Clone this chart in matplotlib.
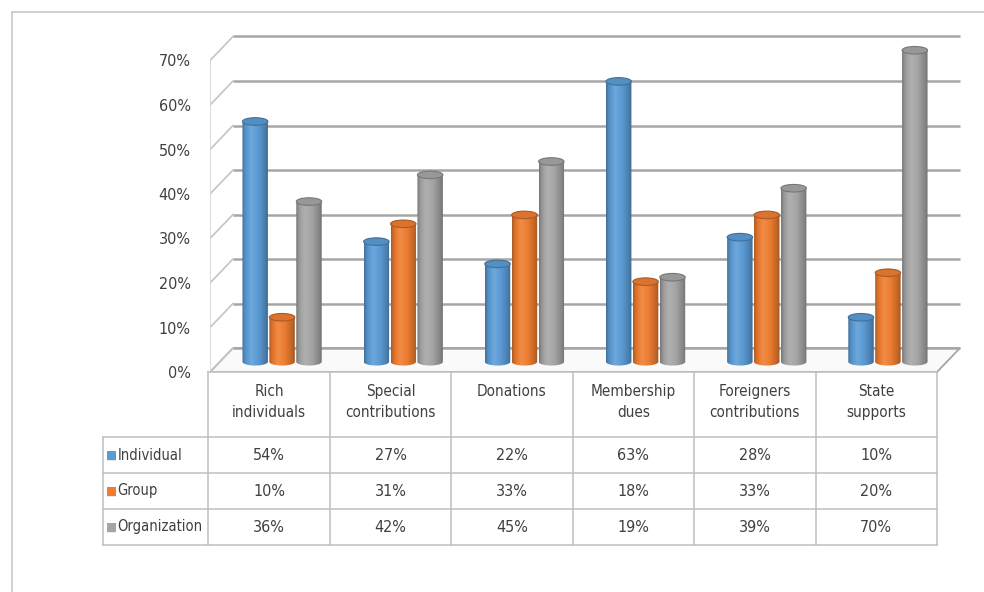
import matplotlib
matplotlib.use("Agg")
import matplotlib.pyplot as plt
import numpy as np
from matplotlib.patches import Ellipse, Polygon
from matplotlib.lines import Line2D
from matplotlib.colors import to_rgb
from matplotlib import font_manager

# ---------------- data ----------------
categories = ["Rich\nindividuals", "Special\ncontributions", "Donations",
              "Membership\ndues", "Foreigners\ncontributions", "State\nsupports"]
series_names = ["Individual", "Group", "Organization"]
individual = [54, 27, 22, 63, 28, 10]
group = [10, 31, 33, 18, 33, 20]
organization = [36, 42, 45, 19, 39, 70]
y_ticks = [0, 10, 20, 30, 40, 50, 60, 70]
y_tick_labels = ["0%", "10%", "20%", "30%", "40%", "50%", "60%", "70%"]
colors = ["#5B9BD5", "#ED7D31", "#A5A5A5"]
series = [individual, group, organization]

names = {f.name for f in font_manager.fontManager.ttflist}
if "Liberation Sans Narrow" in names:
    FONT = dict(family=["Liberation Sans Narrow", "DejaVu Sans"])
else:
    FONT = dict(family=["DejaVu Sans"], stretch="condensed")
TXT = "#404040"

W, H = 984, 592
fig = plt.figure(figsize=(W / 100, H / 100), dpi=100)
fig.patch.set_facecolor("white")

def fx(px):
    return px / W

def fy(py):
    return 1 - py / H

# outer border
fig.add_artist(Line2D([fx(12), fx(984)], [fy(12), fy(12)], color="#c8c8c8", lw=1.2))
fig.add_artist(Line2D([fx(12), fx(12)], [fy(12), fy(592)], color="#c8c8c8", lw=1.2))

# ---------------- chart axes ----------------
left_px, right_px, zero_px, top_px = 210, 965, 372, 20
px_per_cat = (937 - 210) / 6.0
px_per_pct = 4.45
ax = fig.add_axes([fx(left_px), fy(zero_px), fx(right_px - left_px), (zero_px - top_px) / H])
ax.set_facecolor("none")
n = len(categories)
dx = 23 / px_per_cat          # depth offset in category units
dy = 24 / px_per_pct          # depth offset in percent units

grid_c = "#a6a6a6"
diag_c = "#c4c4c4"
for v in y_ticks:
    ax.plot([dx, n + dx], [v + dy, v + dy], color=grid_c, lw=1.8, zorder=1,
            solid_capstyle="butt")
    ax.plot([0, dx], [v, v + dy], color=diag_c, lw=1.2, zorder=1)
ax.plot([0, 0], [0, y_ticks[-1]], color="#d4d4d4", lw=1.2, zorder=1)

# floor
floor = Polygon([(0, 0), (n, 0), (n + dx, dy), (dx, dy)], closed=True,
                 facecolor="#fafafa", edgecolor="#a0a0a0", lw=1.2, zorder=0.5)
ax.add_patch(floor)


def shade(rgb, f):
    f = np.atleast_1d(np.asarray(f, dtype=float))
    out = np.empty((len(f), 3))
    for i, k in enumerate(f):
        if k >= 1:
            out[i] = rgb + (1 - rgb) * (k - 1)
        else:
            out[i] = rgb * k
    return np.clip(out, 0, 1)


def cylinder(xc, w, base, h, color, eh, z):
    rgb = np.array(to_rgb(color))
    x0, x1 = xc - w / 2, xc + w / 2
    top = base + h
    t = np.linspace(np.pi, 2 * np.pi, 40)
    bx = xc + w / 2 * np.cos(t)
    by = base + eh / 2 * np.sin(t)
    verts = [(x0, top)] + list(zip(bx, by)) + [(x1, top)]
    poly = Polygon(verts, closed=True, facecolor="none", edgecolor="none", zorder=z)
    ax.add_patch(poly)
    pos = np.linspace(0, 1, 64)
    f = np.interp(pos, [0, 0.1, 0.35, 0.65, 0.9, 1.0], [0.72, 0.9, 1.12, 0.97, 0.8, 0.68])
    img = shade(rgb, f)[np.newaxis, :, :]
    im = ax.imshow(img, extent=[x0, x1, base - eh / 2, top], aspect="auto",
                   interpolation="bilinear", zorder=z)
    im.set_clip_path(poly)
    ax.add_patch(Ellipse((xc, top), w, eh, facecolor=shade(rgb, 0.92)[0],
                         edgecolor=shade(rgb, 0.72)[0], lw=0.8, zorder=z + 0.1))


bar_w = 0.21
step = 0.222
eh = 1.7
for i in range(n):
    cx = i + 0.5 + dx / 2
    for s, vals in enumerate(series):
        xc = cx + (s - 1) * step
        cylinder(xc, bar_w, 2.3, vals[i], colors[s], eh, z=3 + s * 0.2)

ax.set_xlim(0, (right_px - left_px) / px_per_cat)
ax.set_ylim(0, (zero_px - top_px) / px_per_pct)
ax.set_yticks(y_ticks)
ax.set_yticklabels(y_tick_labels, fontsize=11.5, color=TXT, **FONT)
ax.tick_params(axis="y", length=0, pad=14)
ax.set_xticks([])
for sp in ax.spines.values():
    sp.set_visible(False)

# ---------------- data table ----------------
tl, tr, ttop, tbot = 103, 937, 372, 545
tax = fig.add_axes([fx(tl), fy(tbot), fx(tr - tl), (tbot - ttop) / H])
label_w = (208 - tl) / px_per_cat
row_h = 36.0
total = (tbot - ttop) / row_h
header_bottom = 3.0
tax.set_xlim(-label_w, n)
tax.set_ylim(0, total)
tax.axis("off")
line_c = "#bfbfbf"
for yv in [0, 1, 2, 3]:
    tax.plot([-label_w, n], [yv, yv], color=line_c, lw=1.1, clip_on=False)
tax.plot([0, n], [total, total], color=line_c, lw=1.1, clip_on=False)
tax.plot([-label_w, -label_w], [0, header_bottom], color=line_c, lw=1.1, clip_on=False)
for xv in range(n + 1):
    tax.plot([xv, xv], [0, total], color=line_c, lw=1.1, clip_on=False)

for i, cat in enumerate(categories):
    tax.text(i + 0.5, total - 0.32, cat, ha="center", va="top", fontsize=11,
             color=TXT, linespacing=1.55, **FONT)

for s, name in enumerate(series_names):
    yc = header_bottom - 0.5 - s
    tax.text(-label_w + 0.025, yc, "\u25A0", ha="left", va="center", fontsize=8.5,
             color=colors[s], family="DejaVu Sans")
    tax.text(-label_w + 0.12, yc, name, ha="left", va="center", fontsize=10.5,
             color=TXT, **FONT)
    for i, v in enumerate(series[s]):
        tax.text(i + 0.5, yc, f"{v}%", ha="center", va="center", fontsize=11.5,
                 color=TXT, **FONT)

fig.savefig("out.png", dpi=100, facecolor="white")
